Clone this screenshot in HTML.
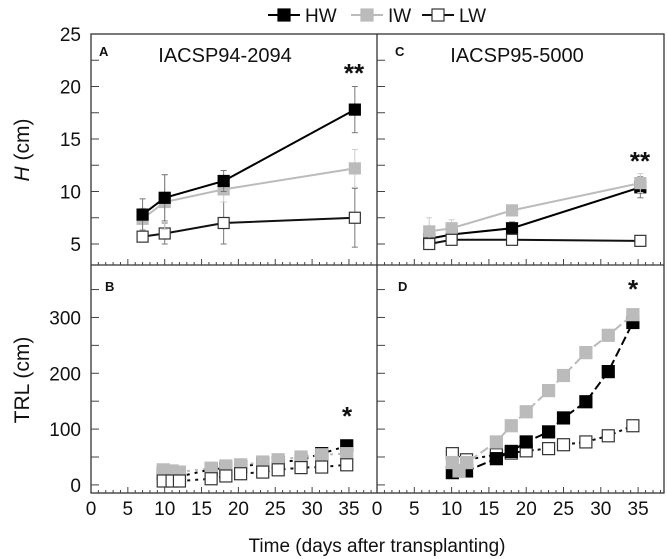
<!DOCTYPE html>
<html><head><meta charset="utf-8"><style>
html,body{margin:0;padding:0;background:#fff;}
svg{display:block;font-family:"Liberation Sans",Arial,sans-serif;}
</style></head><body>
<svg id="chart" width="667" height="559" viewBox="0 0 667 559"></svg>
<script>
// ---- data ----
const daysA = [7, 10, 18, 35.8];
const hwA = [7.8, 9.4, 11.0, 17.8];
const hwAErr = [1.5, 2.2, 1.0, 2.2];
const iwA = [7.4, 9.0, 10.2, 12.2];
const iwAErr = [1.0, 2.6, 1.2, 1.8];
const lwA = [5.7, 6.0, 7.0, 7.5];
const lwAErr = [0.5, 1.0, 2.0, 2.8];

const daysC = [7, 10, 18.1, 35.3];
const hwC = [5.5, 5.9, 6.5, 10.4];
const hwCErr = [0.5, 0.5, 0.6, 1.0];
const iwC = [6.2, 6.5, 8.2, 10.8];
const iwCErr = [1.3, 0.8, 0.5, 0.9];
const lwC = [5.0, 5.4, 5.4, 5.3];
const lwCErr = [0.4, 0.3, 0.3, 0.3];

const daysB = [9.8, 11, 12, 16.3, 18.3, 20.3, 23.3, 25.4, 28.5, 31.3, 34.7];
const hwB = [20, 18, 15, 28, 30, 33, 38, 40, 45, 56, 70];
const iwB = [27, 25, 23, 30, 34, 36, 41, 45, 50, 54, 56];
const lwB = [7, 7, 7, 11, 16, 20, 23, 27, 31, 32, 36];

const daysD = [10.1, 11, 12, 16, 18, 20, 23, 25, 28, 31, 34.3];
const hwD = [22, 25, 25, 47, 60, 77, 95, 120, 149, 203, 291];
const iwD = [40, 25, 40, 77, 106, 131, 169, 196, 237, 268, 305];
const lwD = [56, 40, 45, 54, 57, 61, 65, 72, 77, 88, 106];

const xTicks = [0, 5, 10, 15, 20, 25, 30, 35];
const hTicks = [5, 10, 15, 20, 25];
const trlTicks = [0, 100, 200, 300];

// ---- helpers ----
const svg = document.getElementById('chart');
const NS = 'http://www.w3.org/2000/svg';
function mk(tag, attrs, parent) {
  const e = document.createElementNS(NS, tag);
  for (const k in attrs) e.setAttribute(k, attrs[k]);
  (parent || svg).appendChild(e);
  return e;
}
function txt(s, attrs, parent) { const t = mk('text', attrs, parent); t.textContent = s; return t; }

// panel geometry
const panels = {
  A: {x0: 91, x1: 377, y0: 34, y1: 265, xmax: 38.8, ymin: 3, ymax: 25, px: 7.37},
  C: {x0: 377, x1: 664, y0: 34, y1: 265, xmax: 38.5, ymin: 3, ymax: 25, px: 7.46},
  B: {x0: 91, x1: 377, y0: 265, y1: 493, xmax: 38.8, ymin: -14.5, ymax: 394, px: 7.37},
  D: {x0: 377, x1: 664, y0: 265, y1: 493, xmax: 38.5, ymin: -14.5, ymax: 394, px: 7.46}
};
function sx(p, v) { return p.x0 + v * p.px; }
function sy(p, v) { return p.y1 - (v - p.ymin) / (p.ymax - p.ymin) * (p.y1 - p.y0); }

// frames
const fr = mk('rect', {x: 91, y: 34, width: 573, height: 459, fill: 'none', stroke: '#333', 'stroke-width': 1.3});


mk('line', {x1: 377, y1: 34, x2: 377, y2: 493, stroke: '#333', 'stroke-width': 1.3});
mk('line', {x1: 91, y1: 265, x2: 664, y2: 265, stroke: '#333', 'stroke-width': 1.3});

// x ticks for each panel (minor every day, major every 5)
['A', 'B', 'C', 'D'].forEach(k => {
  const p = panels[k];
  for (let d = 1; d <= Math.floor(p.xmax); d++) {
    const x = sx(p, d), len = d % 5 === 0 ? 6 : 3;
    mk('line', {x1: x, y1: p.y1, x2: x, y2: p.y1 - len, stroke: '#444', 'stroke-width': 1});
  }
});
// x tick labels
['B', 'D'].forEach(k => {
  const p = panels[k];
  xTicks.forEach(v => {
    const t = txt(String(v), {x: sx(p, v), y: 515, 'font-size': 19, 'text-anchor': 'middle', fill: '#111'});
    
    
  });
});
// y ticks
['A', 'C'].forEach(k => {
  const p = panels[k];
  for (let v = 5; v <= 22.5; v += 2.5) {
    const y = sy(p, v);
    mk('line', {x1: p.x0, y1: y, x2: p.x0 + 8, y2: y, stroke: '#444', 'stroke-width': 1});
  }
});
['B', 'D'].forEach(k => {
  const p = panels[k];
  for (let v = 0; v <= 350; v += 50) {
    const y = sy(p, v);
    mk('line', {x1: p.x0, y1: y, x2: p.x0 + 8, y2: y, stroke: '#444', 'stroke-width': 1});
  }
});
hTicks.forEach(v => {
  const t = txt(String(v), {x: 81, y: sy(panels.A, v) + 7, 'font-size': 19, 'text-anchor': 'end', fill: '#111'});
  
  
});
trlTicks.forEach(v => {
  const t = txt(String(v), {x: 81, y: sy(panels.B, v) + 7, 'font-size': 19, 'text-anchor': 'end', fill: '#111'});
  
  
});

// axis titles
const yt1 = mk('text', {x: 0, y: 0, 'font-size': 21, 'text-anchor': 'middle', transform: 'translate(29,150) rotate(-90)', fill: '#111'});
yt1.innerHTML = '<tspan font-style="italic">H</tspan> (cm)';


const yt2 = txt('TRL (cm)', {x: 0, y: 0, 'font-size': 21, 'text-anchor': 'middle', transform: 'translate(29,380) rotate(-90)', fill: '#111'});


const xt = txt('Time (days after transplanting)', {x: 377, y: 552, 'font-size': 19, 'text-anchor': 'middle', fill: '#111'});



// panel labels
[['A', 99, 56], ['C', 395, 56], ['B', 105, 291], ['D', 398, 291]].forEach(([s, x, y]) => {
  const t = txt(s, {x: x, y: y, 'font-size': 13, 'font-weight': 'bold', fill: '#111'});
  
  
});
const tA = txt('IACSP94-2094', {x: 225, y: 62, 'font-size': 20, 'text-anchor': 'middle', fill: '#111'});


const tC = txt('IACSP95-5000', {x: 517, y: 62, 'font-size': 20, 'text-anchor': 'middle', fill: '#111'});


[['**', 354, 82], ['**', 640, 170], ['*', 347, 425], ['*', 633, 298]].forEach(([s, x, y]) => {
  const t = txt(s, {x: x, y: y, 'font-size': 26, 'font-weight': 'bold', 'text-anchor': 'middle', fill: '#111'});
  
  
});

// series drawing
const styles = {
  HW: {fill: '#000', stroke: '#000', line: '#000'},
  IW: {fill: '#bbb', stroke: '#bbb', line: '#bbb'},
  LW: {fill: '#fff', stroke: '#333', line: '#111'}
};
function drawSeries(pk, name, xs, ys, errs, size, dash) {
  const p = panels[pk], st = styles[name];
  const g = mk('g', {});
  
  
  if (errs) {
    xs.forEach((d, i) => {
      const x = sx(p, d), ya = sy(p, ys[i] + errs[i]), yb = sy(p, ys[i] - errs[i]);
      const c = name === 'IW' ? '#ccc' : '#777';
      mk('line', {x1: x, y1: ya, x2: x, y2: yb, stroke: c, 'stroke-width': 1}, g);
      mk('line', {x1: x - 3, y1: ya, x2: x + 3, y2: ya, stroke: c, 'stroke-width': 1}, g);
      mk('line', {x1: x - 3, y1: yb, x2: x + 3, y2: yb, stroke: c, 'stroke-width': 1}, g);
    });
  }
  const pts = xs.map((d, i) => sx(p, d) + ',' + sy(p, ys[i])).join(' ');
  const pl = mk('polyline', {points: pts, fill: 'none', stroke: st.line, 'stroke-width': 2}, g);
  if (dash) pl.setAttribute('stroke-dasharray', dash);
  xs.forEach((d, i) => {
    const r = mk('rect', {x: sx(p, d) - size / 2, y: sy(p, ys[i]) - size / 2, width: size, height: size,
      fill: st.fill, stroke: st.stroke, 'stroke-width': 1.2}, g);
    
    
  });
}
drawSeries('A', 'LW', daysA, lwA, lwAErr, 11, null);
drawSeries('A', 'IW', daysA, iwA, iwAErr, 11, null);
drawSeries('A', 'HW', daysA, hwA, hwAErr, 11, null);
drawSeries('C', 'HW', daysC, hwC, hwCErr, 11, null);
drawSeries('C', 'IW', daysC, iwC, iwCErr, 11, null);
drawSeries('C', 'LW', daysC, lwC, lwCErr, 11, null);
drawSeries('B', 'HW', daysB, hwB, null, 12, '3,5');
drawSeries('B', 'IW', daysB, iwB, null, 12, '3,5');
drawSeries('B', 'LW', daysB, lwB, null, 12, '3,5');
drawSeries('D', 'LW', daysD, lwD, null, 12, '3,4');
drawSeries('D', 'HW', daysD, hwD, null, 12, '9,4');
drawSeries('D', 'IW', daysD, iwD, null, 12, '9,4');

// legend
const legend = mk('g', {});


[['HW', 268], ['IW', 351], ['LW', 422]].forEach(([n, x]) => {
  const st = styles[n];
  const g = mk('g', {}, legend);
  
  
  mk('line', {x1: x, y1: 15, x2: x + 32, y2: 15, stroke: st.line, 'stroke-width': 2}, g);
  mk('rect', {x: x + 10, y: 9, width: 12, height: 12, fill: st.fill, stroke: st.stroke, 'stroke-width': 1.2}, g);
  txt(n, {x: x + 37, y: 22, 'font-size': 19, fill: '#111'}, g);
});
</script>
</body></html>
